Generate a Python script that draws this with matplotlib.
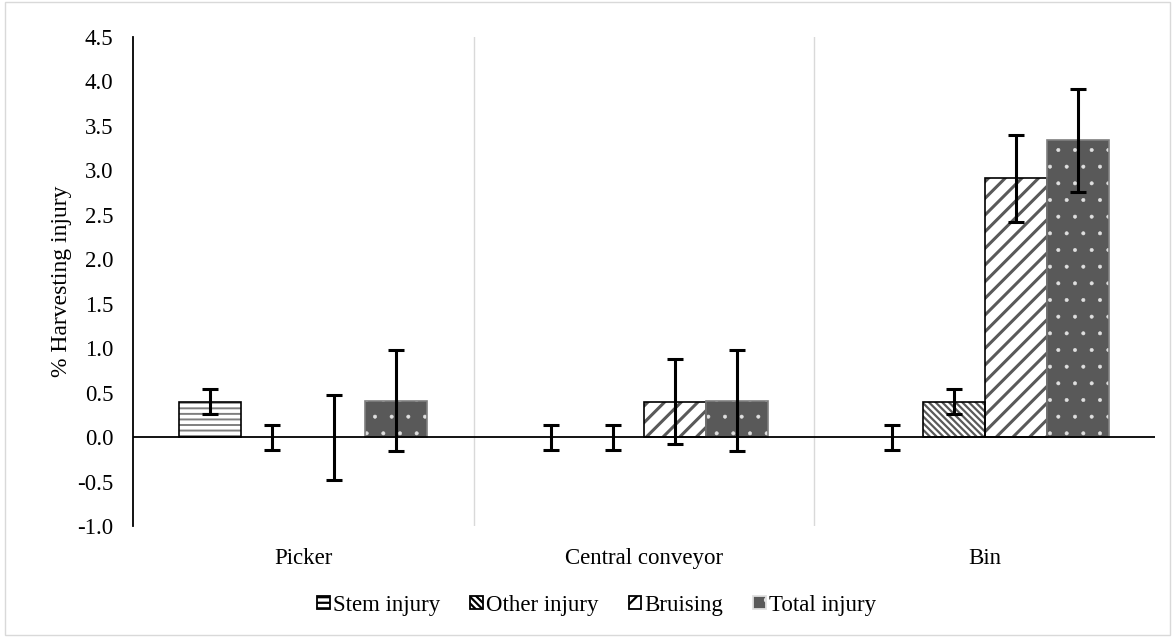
import matplotlib
matplotlib.use("Agg")
import matplotlib.pyplot as plt
import numpy as np
from matplotlib.patches import Rectangle, Patch

plt.rcParams['font.family'] = ['Liberation Serif', 'DejaVu Serif']
plt.rcParams['hatch.linewidth'] = 1.6

categories = ["Picker", "Central conveyor", "Bin"]
series = ["Stem injury", "Other injury", "Bruising", "Total injury"]

stem_injury = [0.40, 0.0, 0.0]
other_injury = [0.0, 0.0, 0.40]
bruising = [0.0, 0.40, 2.91]
total_injury = [0.41, 0.41, 3.34]

stem_err = [0.14, 0.14, 0.14]
other_err = [0.14, 0.14, 0.14]
bruising_err = [0.48, 0.48, 0.49]
total_err = [0.57, 0.57, 0.58]

y_ticks = [-1.0, -0.5, 0.0, 0.5, 1.0, 1.5, 2.0, 2.5, 3.0, 3.5, 4.0, 4.5]

values = [stem_injury, other_injury, bruising, total_injury]
errors = [stem_err, other_err, bruising_err, total_err]

styles = [
    dict(facecolor="white", hatch="---", hatchcolor="#7f7f7f", edge="black", hlw=1.4),
    dict(facecolor="white", hatch="\\\\\\\\\\", hatchcolor="#595959", edge="black", hlw=1.6),
    dict(facecolor="white", hatch="//", hatchcolor="#595959", edge="black", hlw=2.2),
    dict(facecolor="#595959", hatch=".", hatchcolor="#e0e0e0", edge="#7f7f7f", hlw=0.4),
]


def set_hatch_lw(artist, lw):
    if hasattr(artist, "set_hatch_linewidth"):
        artist.set_hatch_linewidth(lw)


fig = plt.figure(figsize=(11.75, 6.37), dpi=100)
ax = fig.add_axes([0.1132, 0.174, 0.8698, 0.768])

x = np.arange(len(categories))
width = 0.182

for i, (vals, errs, st) in enumerate(zip(values, errors, styles)):
    pos = x + (i - 1.5) * width
    # hatched fill first, then the outline on top
    bars = ax.bar(pos, vals, width, color=st["facecolor"], edgecolor=st["hatchcolor"],
                  hatch=st["hatch"], linewidth=0, zorder=2)
    for b in bars:
        set_hatch_lw(b, st["hlw"])
    for p, v in zip(pos, vals):
        if v != 0:
            ax.bar(p, v, width, fill=False, edgecolor=st["edge"], linewidth=1.2, zorder=3)
    ax.errorbar(pos, vals, yerr=errs, fmt="none", ecolor="black", elinewidth=2.2,
                capsize=6, capthick=2.2, zorder=5)

ax.set_xlim(-0.5, len(categories) - 0.5)
ax.set_ylim(-1.0, 4.5)
ax.set_yticks(y_ticks)
ax.set_yticklabels([f"{t:.1f}" for t in y_ticks], fontsize=16.5)
ax.tick_params(axis="y", length=0, pad=14)
ax.tick_params(axis="x", length=0, pad=16)
ax.set_xticks(x)
ax.set_xticklabels(categories, fontsize=16.5)

for s in ["top", "right", "bottom"]:
    ax.spines[s].set_visible(False)
ax.spines["left"].set_linewidth(1.3)
ax.axhline(0, color="black", linewidth=1.3, zorder=4)
for b in [0.5, 1.5]:
    ax.axvline(b, color="#d9d9d9", linewidth=1.0, zorder=1)

ax.set_ylabel("% Harvesting injury", fontsize=17, labelpad=4)

handles = []
for st, name in zip(styles, series):
    edge = st["hatchcolor"] if name == "Total injury" else "black"
    h = Patch(facecolor=st["facecolor"], edgecolor=edge, hatch=st["hatch"],
              linewidth=1.3, label=name)
    handles.append(h)
leg = fig.legend(handles=handles, loc="center", bbox_to_anchor=(0.508, 0.050), ncol=4,
                 frameon=False, fontsize=16.5, handlelength=0.55, handleheight=0.55,
                 handletextpad=0.15, columnspacing=1.3)

fig.add_artist(Rectangle((0.004, 0.003), 0.992, 0.994, transform=fig.transFigure,
                         fill=False, edgecolor="#d9d9d9", linewidth=1.0))

fig.savefig("out.png", dpi=100)
